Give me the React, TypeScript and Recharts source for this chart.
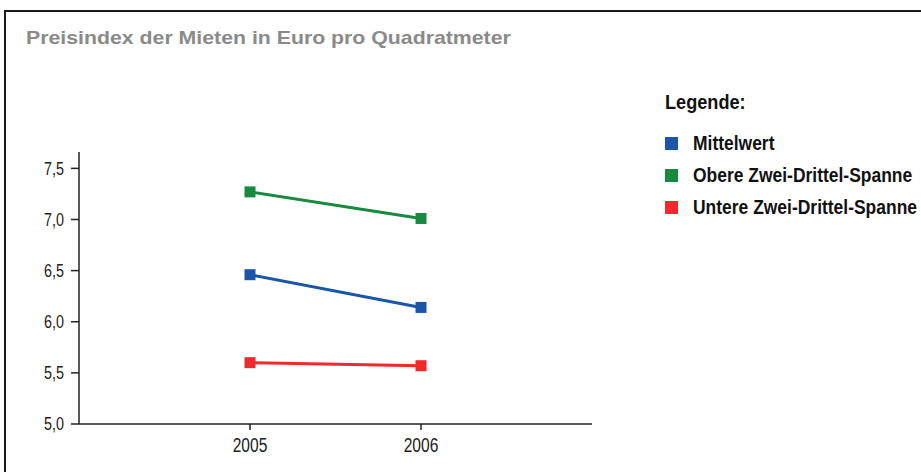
import { Line, LineChart, XAxis, YAxis } from 'recharts'

const years = [2005, 2006]
const mittelwert = [6.46, 6.14]
const obereSpanne = [7.27, 7.01]
const untereSpanne = [5.6, 5.57]
const yTicks = [5, 5.5, 6, 6.5, 7, 7.5]

const series = [
  { key: 'mittel', name: 'Mittelwert', color: '#1a55a8', values: mittelwert },
  { key: 'obere', name: 'Obere Zwei-Drittel-Spanne', color: '#188a40', values: obereSpanne },
  { key: 'untere', name: 'Untere Zwei-Drittel-Spanne', color: '#ee2b2b', values: untereSpanne },
]

const data = years.map((year, i) => {
  const row: Record<string, number> = { year }
  series.forEach(s => {
    row[s.key] = s.values[i]
  })
  return row
})

const arial = '"Liberation Sans", Arial, sans-serif'

const SquareDot = (props: any) => {
  const { cx, cy, fill } = props
  if (cx == null || cy == null) return null
  return <rect x={cx - 5.5} y={cy - 5.5} width={11} height={11} fill={fill} />
}

// condensed look: normal Arial squeezed horizontally
const YTick = ({ x, y, payload }: any) => (
  <g transform={`translate(${x},${y})`}>
    <text transform="scale(0.82,1)" textAnchor="end" dy="0.36em" fill="#222" fontSize={17.5} fontFamily={arial}>
      {Number(payload.value).toFixed(1).replace('.', ',')}
    </text>
  </g>
)

const XTick = ({ x, y, payload }: any) => (
  <g transform={`translate(${x},${y})`}>
    <text transform="scale(0.76,1)" textAnchor="middle" dy={18} fill="#222" fontSize={20.5} fontFamily={arial}>
      {payload.value}
    </text>
  </g>
)

const Squeezed = ({ children, k }: { children: any; k: number }) => (
  <span style={{ display: 'inline-block', transform: `scaleX(${k})`, transformOrigin: 'left center', whiteSpace: 'nowrap' }}>
    {children}
  </span>
)

export default function App() {
  return (
    <div style={{ position: 'absolute', left: 0, top: 0, width: 921, height: 472, overflow: 'hidden', background: '#fff' }}>
      <div
        style={{
          position: 'absolute',
          left: 4,
          top: 10,
          width: 940,
          height: 490,
          border: '2px solid #1a1a1a',
          boxSizing: 'border-box',
        }}
      />
      <div
        style={{
          position: 'absolute',
          left: 26,
          top: 28,
          lineHeight: '19px',
          fontFamily: arial,
          fontWeight: 'bold',
          fontSize: 19,
          color: '#8a8a8a',
        }}
      >
        <Squeezed k={1.12}>Preisindex der Mieten in Euro pro Quadratmeter</Squeezed>
      </div>

      <div style={{ position: 'absolute', left: 0, top: 0 }}>
        <LineChart width={921} height={472} data={data} margin={{ top: 152, right: 329, bottom: 18, left: 0 }}>
          <XAxis
            dataKey="year"
            type="number"
            domain={[2004, 2007]}
            ticks={years}
            height={30}
            stroke="#222"
            strokeWidth={1.5}
            tickSize={6}
            tickMargin={4}
            tick={<XTick />}
          />
          <YAxis
            type="number"
            domain={[5, 7.66]}
            ticks={yTicks}
            width={79}
            stroke="#222"
            strokeWidth={1.5}
            tickSize={8}
            tickMargin={7}
            tick={<YTick />}
            allowDataOverflow
          />
          {series.map(s => (
            <Line
              key={s.key}
              type="linear"
              dataKey={s.key}
              name={s.name}
              stroke={s.color}
              strokeWidth={3}
              dot={<SquareDot fill={s.color} />}
              activeDot={false}
              isAnimationActive={false}
            />
          ))}
        </LineChart>
      </div>

      <div
        style={{
          position: 'absolute',
          left: 665,
          top: 89,
          fontFamily: arial,
          fontWeight: 'bold',
          fontSize: 19.5,
          color: '#111',
        }}
      >
        <div style={{ height: 26, lineHeight: '26px' }}>
          <Squeezed k={0.93}>Legende:</Squeezed>
        </div>
        <div style={{ height: 12 }} />
        {series.map(s => (
          <div key={s.key} style={{ display: 'flex', alignItems: 'center', height: 32 }}>
            <span style={{ display: 'inline-block', width: 13, height: 13, background: s.color, marginRight: 15, flex: 'none' }} />
            <Squeezed k={0.895}>{s.name}</Squeezed>
          </div>
        ))}
      </div>
    </div>
  )
}
